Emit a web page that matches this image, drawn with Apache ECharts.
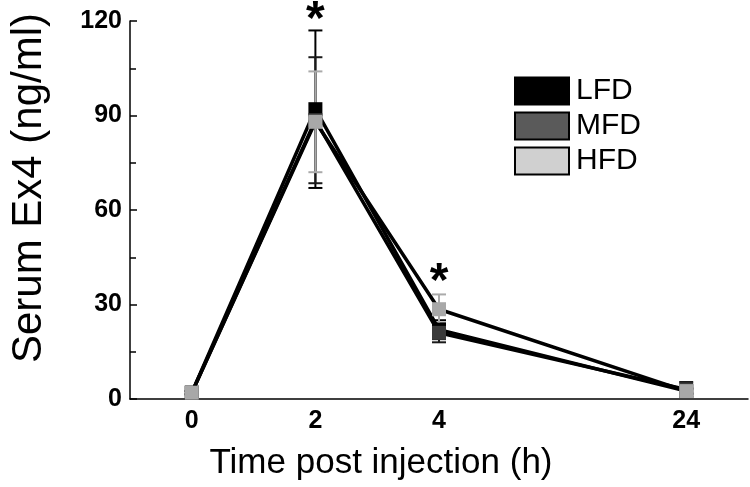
<!DOCTYPE html>
<html>
<head>
<meta charset="utf-8">
<script src="https://cdn.jsdelivr.net/npm/echarts@6/dist/echarts.min.js"></script>
<style>
html, body { margin: 0; padding: 0; background: #fff; }
#chart { width: 750px; height: 487px; }
</style>
</head>
<body>
<div id="chart"></div>
<script>
// time points (the empty slot is the unlabelled tick between 4 and 24)
var times = ['0', '2', '4', '', '24'];

var lfdMean = [2, 92, 22, null, 2.5];
var lfdErr  = [0.5, 25, 3, null, 0.8];
var mfdMean = [2, 88.5, 21, null, 3];
var mfdErr  = [0.5, 20, 3, null, 2.4];
var hfdMean = [2, 88, 28.5, null, 2.5];
var hfdErr  = [0.5, 16, 4.7, null, 0.8];

// significance stars
var starX = ['2', '4'];
var starY = [120, 37];

var yTicks = [0, 30, 60, 90, 120];

var FONT = '"Liberation Sans", Arial, Helvetica, sans-serif';

function errData(mean, err) {
    var out = [];
    for (var i = 0; i < mean.length; i++) {
        if (mean[i] == null) continue;
        out.push([i, mean[i] - err[i], mean[i] + err[i]]);
    }
    return out;
}

function errSeries(name, mean, err, color, z) {
    return {
        name: name + ' err',
        type: 'custom',
        z: z,
        silent: true,
        data: errData(mean, err),
        renderItem: function(params, api) {
            var x = api.value(0);
            var lo = api.coord([x, api.value(1)]);
            var hi = api.coord([x, api.value(2)]);
            var hw = 7;
            var st = {stroke: color, lineWidth: 2};
            return {
                type: 'group',
                children: [
                    {type: 'line', shape: {x1: lo[0], y1: lo[1], x2: hi[0], y2: hi[1]}, style: st},
                    {type: 'line', shape: {x1: lo[0] - hw, y1: lo[1], x2: lo[0] + hw, y2: lo[1]}, style: st},
                    {type: 'line', shape: {x1: hi[0] - hw, y1: hi[1], x2: hi[0] + hw, y2: hi[1]}, style: st}
                ]
            };
        }
    };
}

function lineSeries(name, mean, color, z) {
    return {
        name: name,
        type: 'line',
        z: z,
        data: mean,
        connectNulls: true,
        symbol: 'rect',
        symbolSize: 14,
        showAllSymbol: true,
        itemStyle: {color: color},
        lineStyle: {color: '#000', width: 3.5},
        emphasis: {disabled: true}
    };
}

var chart = echarts.init(document.getElementById('chart'));

var option = {
    animation: false,
    backgroundColor: '#fff',
    grid: {left: 125, right: 2, top: 21, bottom: 88},
    legend: {
        orient: 'vertical',
        left: 509,
        top: 71,
        icon: 'rect',
        itemWidth: 54,
        itemHeight: 27,
        itemGap: 5,
        selectedMode: false,
        textStyle: {fontFamily: FONT, fontSize: 30, color: '#000', padding: [0, 0, 0, 2], lineHeight: 27},
        data: [
            {name: 'LFD', itemStyle: {color: '#000', borderColor: '#000', borderWidth: 2}},
            {name: 'MFD', itemStyle: {color: '#5a5a5a', borderColor: '#000', borderWidth: 2}},
            {name: 'HFD', itemStyle: {color: '#d0d0d0', borderColor: '#000', borderWidth: 2}}
        ]
    },
    xAxis: {
        type: 'category',
        data: times,
        boundaryGap: true,
        name: 'Time post injection (h)',
        nameLocation: 'middle',
        nameGap: 47,
        nameTextStyle: {fontFamily: FONT, fontSize: 35, color: '#000', padding: [0, 116, 0, 0]},
        axisLine: {lineStyle: {color: '#000', width: 1.5}},
        axisTick: {alignWithLabel: true, inside: true, length: 6, interval: 0, lineStyle: {color: '#000', width: 1.5}},
        axisLabel: {fontFamily: FONT, fontSize: 25, fontWeight: 'bold', color: '#000', margin: 10, interval: 0},
        splitLine: {show: false}
    },
    yAxis: {
        type: 'value',
        min: yTicks[0],
        max: yTicks[yTicks.length - 1],
        interval: 30,
        name: 'Serum Ex4 (ng/ml)',
        nameLocation: 'middle',
        nameGap: 80,
        nameTextStyle: {fontFamily: FONT, fontSize: 42, color: '#000', padding: [0, 0, 0, 44]},
        axisLine: {show: true, lineStyle: {color: '#000', width: 1.5}},
        axisTick: {show: true, inside: true, length: 7, lineStyle: {color: '#000', width: 1.5}},
        minorTick: {show: true, splitNumber: 2, length: 6, lineStyle: {color: '#000', width: 1.5}},
        axisLabel: {fontFamily: FONT, fontSize: 25, fontWeight: 'bold', color: '#000', margin: 8},
        splitLine: {show: false}
    },
    series: [
        errSeries('LFD', lfdMean, lfdErr, '#000', 1),
        errSeries('MFD', mfdMean, mfdErr, '#1a1a1a', 2),
        errSeries('HFD', hfdMean, hfdErr, '#aaaaaa', 3),
        lineSeries('LFD', lfdMean, '#000', 4),
        lineSeries('MFD', mfdMean, '#3a3a3a', 5),
        lineSeries('HFD', hfdMean, '#a8a8a8', 6),
        {
            name: 'stars',
            type: 'scatter',
            z: 7,
            silent: true,
            clip: false,
            symbolSize: 0,
            itemStyle: {color: '#000', opacity: 1},
            data: starX.map(function(x, i) { return [x, starY[i]]; }),
            label: {
                show: true,
                position: 'inside',
                formatter: '*',
                fontFamily: FONT,
                fontSize: 48,
                fontWeight: 'bold',
                color: '#000',
                opacity: 1,
                textBorderWidth: 0
            }
        }
    ]
};

chart.setOption(option);
</script>
</body>
</html>
